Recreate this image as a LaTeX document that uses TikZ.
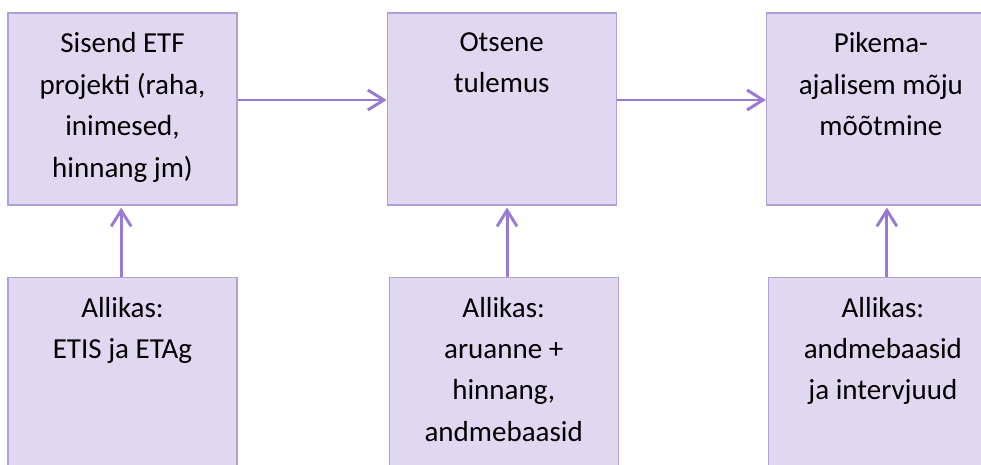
\documentclass[tikz,border=0pt]{standalone}
\usepackage{fontspec}
\setmainfont{Carlito}
\usetikzlibrary{positioning,arrows.meta}
\definecolor{boxfill}{RGB}{224,216,240}
\definecolor{boxline}{RGB}{176,160,218}
\definecolor{arrowline}{RGB}{152,122,212}
\tikzset{
  box/.style={draw=boxline, fill=boxfill, line width=0.9pt, minimum width=171.75pt, minimum height=144pt, inner sep=0pt},
  txt/.style={align=center, inner sep=0pt, font=\fontsize{21.75pt}{31.1pt}\selectfont},
  arr/.style={draw=arrowline, line width=2.2pt, -{Straight Barb[length=12pt,width=15pt]}}
}

\begin{document}
\begin{tikzpicture}[x=0.75pt,y=-0.75pt]
\clip (0,0) rectangle (981,464);

\node[box] (b1) at (122.5,109) {};
\node[box, right=111.75pt of b1] (b2) {};
\node[box, right=111.75pt of b2] (b3) {};
\node[box, below=53.25pt of b1] (b4) {};
\node[box, below=53.25pt of b2, xshift=1.5pt] (b5) {};
\node[box, below=53.25pt of b3, xshift=1.5pt] (b6) {};

\node[txt, below=15pt of b1.north] (t1) {Sisend ETF\\projekti (raha,\\inimesed,\\hinnang jm)};
\node[txt, below=15pt of b2.north] (t2) {Otsene\\tulemus};
\node[txt, below=15pt of b3.north] (t3) {Pikema-\\ajalisem mõju\\mõõtmine};
\node[txt, below=15pt of b4.north] (t4) {Allikas:\\ETIS ja ETAg};
\node[txt, below=15pt of b5.north] (t5) {Allikas:\\aruanne +\\hinnang,\\andmebaasid};
\node[txt, below=15pt of b6.north] (t6) {Allikas:\\andmebaasid\\ja intervjuud};

\draw[arr] ([yshift=6.75pt]b1.east) -- ([yshift=6.75pt]b2.west);
\draw[arr] ([yshift=6.75pt]b2.east) -- ([yshift=6.75pt]b3.west);
\draw[arr, shorten >=1.5pt] ([xshift=-1pt]b4.north) -- ([xshift=-1pt]b1.south);
\draw[arr, shorten >=1.5pt] ([xshift=2.5pt]b5.north) -- ([xshift=2.5pt]b5.north |- b2.south);
\draw[arr, shorten >=1.5pt] ([xshift=3pt]b6.north) -- ([xshift=3pt]b6.north |- b3.south);
\end{tikzpicture}
\end{document}
